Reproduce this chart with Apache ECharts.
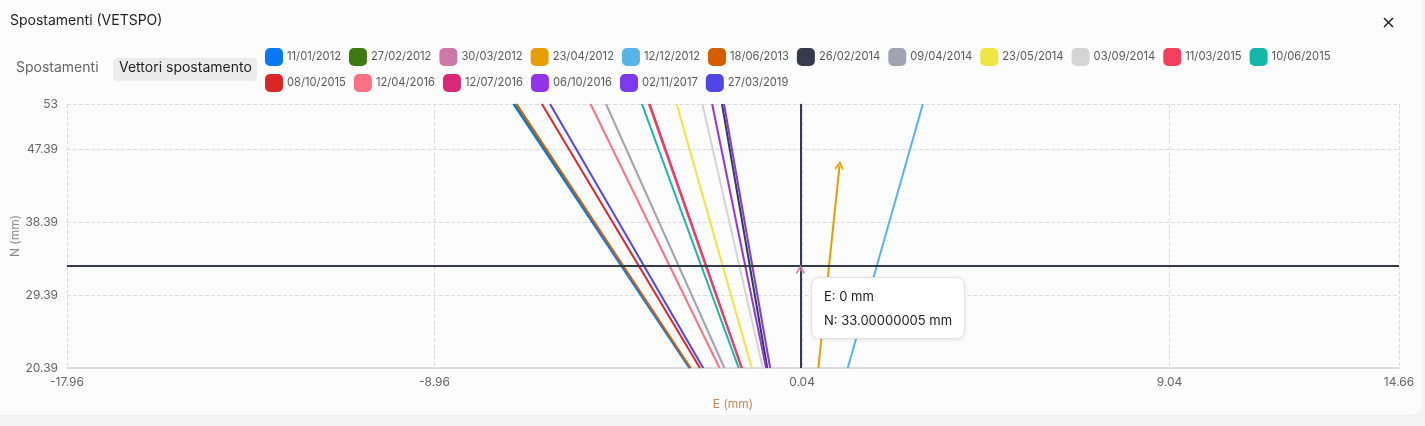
<!DOCTYPE html>
<html>
<head>
<meta charset="utf-8">
<script src="https://cdn.jsdelivr.net/npm/echarts@6/dist/echarts.min.js"></script>
<style>
  html, body { margin: 0; padding: 0; background: #f3f3f3; }
  #chart { width: 1422px; height: 415px; background: #fcfcfc; border-radius: 0 0 12px 0; }
</style>
</head>
<body>
<div id="chart"></div>
<script>
// date di misura (legenda)
var dates = ['11/01/2012', '27/02/2012', '30/03/2012', '23/04/2012', '12/12/2012', '18/06/2013',
  '26/02/2014', '09/04/2014', '23/05/2014', '03/09/2014', '11/03/2015', '10/06/2015',
  '08/10/2015', '12/04/2016', '12/07/2016', '06/10/2016', '02/11/2017', '27/03/2019'];
var colors = ['#0a78f2', '#3d7a12', '#cc79a7', '#e69f00', '#56b4e9', '#d55e00',
  '#363b4c', '#a0a4b0', '#f0e442', '#d4d4d4', '#f43f5e', '#14b8a6',
  '#dc2626', '#fb7185', '#db2777', '#9333ea', '#7c3aed', '#4f46e5'];

// vettori: punto iniziale e finale (E, N in mm)
var startE = [-7.03, -7.00, 0.00, 0.44, 1.16, -6.95, -1.92, -4.76, -3.03, -2.40, -3.71, -3.88, -6.33, -5.14, -3.69, -2.16, -1.87, -6.13];
var startN = [53, 53, 32.35, 20.39, 20.39, 53, 53, 53, 53, 53, 53, 53, 53, 53, 53, 53, 53, 53];
var endE = [-2.72, -2.70, 0.00, 0.96, 3.00, -2.69, -0.81, -1.86, -1.19, -0.92, -1.44, -1.51, -2.46, -1.98, -1.43, -0.84, -0.74, -2.38];
var endN = [20.39, 20.39, 32.55, 45.40, 53, 20.39, 20.39, 20.39, 20.39, 20.39, 20.39, 20.39, 20.39, 20.39, 20.39, 20.39, 20.39, 20.39];
var arrowVisible = [false, false, true, true, false, false, false, false, false, false, false, false, false, false, false, false, false, false];
var hidden = [false, true, false, false, false, false, false, false, false, false, false, false, false, false, true, false, false, false];

// origine
var origin = [0, 33.00000005];

// assi
var xMin = -17.96, xMax = 14.66, xStep = 9;
var yMin = 20.39, yMax = 53, yStep = 9;

var chevron = 'path://M0,8 L6,0 L12,8 L10.6,9.3 L6,3.2 L1.4,9.3 Z';
var font = 'Inter, "Noto Sans", sans-serif';

var myChart = echarts.init(document.getElementById('chart'));

var series = dates.map(function (d, i) {
    var z = hidden[i] ? 1 : 2;
    if (i === 2) z = 6; // vettore quasi nullo: freccia sopra gli assi
    return {
        name: d,
        type: 'lines',
        coordinateSystem: 'cartesian2d',
        z: z,
        clip: true,
        symbol: arrowVisible[i] ? ['none', chevron] : ['none', 'none'],
        symbolSize: [12, 9],
        lineStyle: { color: colors[i], width: 2, opacity: 1 },
        itemStyle: { color: colors[i] },
        data: [{ coords: [[startE[i], startN[i]], [endE[i], endN[i]]] }]
    };
});

// punto origine con assi di riferimento
series.push({
    name: 'origine',
    type: 'scatter',
    symbolSize: 2,
    itemStyle: { color: 'rgba(0,0,0,0)' },
    data: [origin],
    z: 5,
    markLine: {
        silent: true,
        symbol: ['none', 'none'],
        animation: false,
        label: { show: false },
        lineStyle: { color: '#363b4c', width: 2, type: 'solid' },
        data: [{ xAxis: origin[0] }, { yAxis: origin[1] }]
    }
});

var option = {
    animation: false,
    color: colors,
    textStyle: { fontFamily: font },
    graphic: [
        { type: 'text', left: 10, top: 14, style: { text: 'Spostamenti (VETSPO)', font: '14px ' + font, fill: '#1f1f1f' } },
        { type: 'text', left: 16, top: 61, style: { text: 'Spostamenti', font: '14px ' + font, fill: '#666' } },
        { type: 'rect', left: 113, top: 58, shape: { width: 144, height: 23, r: 4 }, style: { fill: '#ececec' } },
        { type: 'text', left: 119, top: 61, style: { text: 'Vettori spostamento', font: '14px ' + font, fill: '#1f1f1f' } },
        { type: 'line', shape: { x1: 1384, y1: 18, x2: 1393, y2: 27 }, style: { stroke: '#222', lineWidth: 1.5 } },
        { type: 'line', shape: { x1: 1393, y1: 18, x2: 1384, y2: 27 }, style: { stroke: '#222', lineWidth: 1.5 } },
        // nome asse N
        { type: 'text', x: 15, y: 236, rotation: Math.PI / 2,
          style: { text: 'N (mm)', font: '12px ' + font, fill: '#888', align: 'center', verticalAlign: 'middle' } }
    ],
    legend: {
        data: dates,
        left: 265,
        top: 48,
        width: 1100,
        padding: 0,
        itemWidth: 16,
        itemHeight: 16,
        itemGap: 8,
        icon: 'roundRect',
        textStyle: { color: '#5a5a5a', fontSize: 11.2, lineHeight: 16, fontFamily: font }
    },
    tooltip: {
        trigger: 'item',
        triggerOn: 'none',
        alwaysShowContent: true,
        transitionDuration: 0,
        backgroundColor: '#fff',
        borderColor: '#e2e2e2',
        borderWidth: 1,
        padding: [6, 12],
        textStyle: { color: '#222', fontSize: 13, fontFamily: font },
        extraCssText: 'border-radius:8px; line-height:24px; box-shadow:0 1px 4px rgba(0,0,0,0.10);',
        position: function (point) {
            return [point[0] + 11, point[1] + 11];
        },
        formatter: function (params) {
            return 'E: ' + params.value[0] + ' mm<br/>N: ' + params.value[1] + ' mm';
        }
    },
    grid: {
        left: 67,
        right: 23,
        top: 104,
        bottom: 47,
        containLabel: false,
        outerBoundsMode: 'none'
    },
    xAxis: {
        type: 'value',
        name: 'E (mm)',
        nameLocation: 'middle',
        nameGap: 30,
        nameTextStyle: { color: '#c4875a', fontSize: 12 },
        min: xMin,
        max: xMax,
        interval: xStep,
        axisLine: { lineStyle: { color: '#dddde3', width: 2 } },
        axisTick: { show: false },
        axisLabel: { color: '#666', fontSize: 12, margin: 8, showMaxLabel: true, showMinLabel: true },
        splitLine: { show: true, lineStyle: { color: '#dcdcdc', type: 'dashed' } }
    },
    yAxis: {
        type: 'value',
        min: yMin,
        max: yMax,
        interval: yStep,
        axisLine: { show: true, lineStyle: { color: '#dddde3', width: 2 } },
        axisTick: { show: false },
        axisLabel: { color: '#666', fontSize: 12, margin: 9, showMaxLabel: true, showMinLabel: true },
        splitLine: { show: true, lineStyle: { color: '#dcdcdc', type: 'dashed' } }
    },
    series: series
};

myChart.setOption(option, true);
myChart.dispatchAction({ type: 'showTip', seriesIndex: dates.length, dataIndex: 0 });
</script>
</body>
</html>
